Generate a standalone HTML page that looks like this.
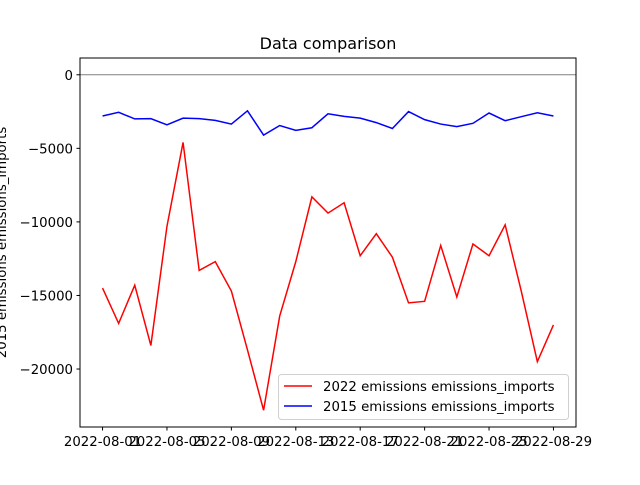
<!DOCTYPE html>
<html><head><meta charset="utf-8"><style>
body{margin:0;background:#fff;}
svg text{font-family:"DejaVu Sans","Liberation Sans",sans-serif;font-size:13.3px;fill:#000;}
</style></head><body>
<svg id="chart" width="640" height="480" xmlns="http://www.w3.org/2000/svg">
<rect width="640" height="480" fill="#fff"/>
<text x="328" y="49" text-anchor="middle" style="font-size:16px">Data comparison</text>
<g id="plot"></g>
</svg>
<script>
const dates=["2022-08-01","2022-08-05","2022-08-09","2022-08-13","2022-08-17","2022-08-21","2022-08-25","2022-08-29"];
const yTicks=[0,-5000,-10000,-15000,-20000];
const series2022=[-14500,-16900,-14300,-18400,-10300,-4600,-13300,-12700,-14700,-18700,-22800,-16400,-12700,-8300,-9400,-8700,-12300,-10800,-12400,-15500,-15400,-11600,-15100,-11500,-12300,-10200,-14700,-19500,-17000];
const series2015=[-2800,-2550,-3000,-2980,-3400,-2950,-2980,-3100,-3350,-2450,-4100,-3450,-3780,-3600,-2650,-2830,-2950,-3250,-3650,-2500,-3050,-3350,-3520,-3300,-2600,-3120,-2850,-2580,-2800];
const L=80,R=576,T=58,B=427;
const n=series2022.length;
const all=series2022.concat(series2015,[0]);
const mn=Math.min(...all),mx=Math.max(...all),pad=(mx-mn)*0.05;
const yMin=mn-pad,yMax=mx+pad;
const xMinD=-(n-1)*0.05,xMaxD=(n-1)*1.05;
const xs=i=>L+(i-xMinD)/(xMaxD-xMinD)*(R-L);
const ys=v=>B-(v-yMin)/(yMax-yMin)*(B-T);
const NS="http://www.w3.org/2000/svg";
const g=document.getElementById('plot');
function mk(tag,attrs,parent){const e=document.createElementNS(NS,tag);for(const k in attrs)e.setAttribute(k,attrs[k]);(parent||g).appendChild(e);return e;}
let zl=mk('line',{x1:L,x2:R,y1:ys(0),y2:ys(0),stroke:'#808080','stroke-width':1});


function line(data,color,name){
  const p=mk('polyline',{points:data.map((v,i)=>xs(i)+','+ys(v)).join(' '),fill:'none',stroke:color,'stroke-width':1.5});
  
  
}
line(series2022,'#ff0000','line-2022');
line(series2015,'#0000ff','line-2015');
let fr=mk('rect',{x:L,y:T,width:R-L,height:B-T,fill:'none',stroke:'#000','stroke-width':1});


yTicks.forEach(v=>{
  const y=ys(v);
  mk('line',{x1:L-3.5,x2:L,y1:y,y2:y,stroke:'#000'});
  const t=mk('text',{x:L-7,y:y+5,'text-anchor':'end'});
  t.textContent=String(v).replace('-','\u2212');
  
  
});
dates.forEach((d,k)=>{
  const x=xs(k*4);
  mk('line',{x1:x,x2:x,y1:B,y2:B+3.5,stroke:'#000'});
  const t=mk('text',{x:x,y:B+19,'text-anchor':'middle'});
  t.textContent=d;
  
  
});
const yl=mk('text',{x:0,y:0,'text-anchor':'middle',transform:'translate(6,'+((T+B)/2)+') rotate(-90)'});
yl.textContent='2015 emissions emissions_imports';


const lg=mk('g',{});


mk('rect',{x:278.5,y:374.5,width:290,height:45,rx:3,fill:'#fff','fill-opacity':0.8,stroke:'#d0d0d0'},lg);
[['#ff0000','2022 emissions emissions_imports',386],['#0000ff','2015 emissions emissions_imports',406]].forEach(([c,txt,y])=>{
  mk('line',{x1:284,x2:312,y1:y,y2:y,stroke:c,'stroke-width':1.5},lg);
  const t=mk('text',{x:323,y:y+5},lg);
  t.textContent=txt;
  
  
});
</script>
</body></html>
